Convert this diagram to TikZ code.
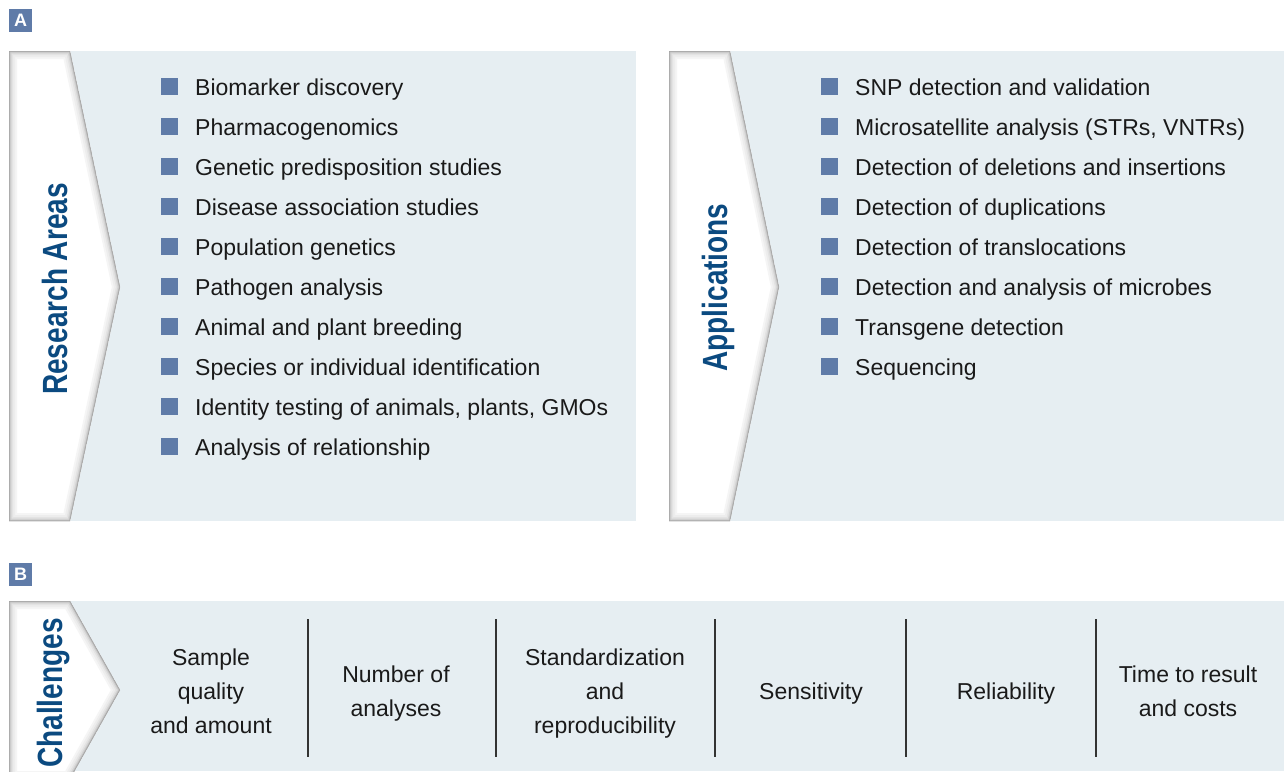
\documentclass[tikz,border=0pt]{standalone}
\usepackage{fontspec}
\setmainfont{Liberation Sans}
\newfontfamily\headfont{Liberation Sans}[FakeStretch=0.8]
\definecolor{panelbg}{HTML}{E6EEF2}
\definecolor{bulletblue}{HTML}{5F7BA8}
\definecolor{headblue}{HTML}{0B4A80}
\definecolor{txt}{HTML}{1A1A1A}
\newcommand\mychev[6]{%
  \fill[white] (#1,#2) -- (#3,#2) -- (#4,#5) -- (#3,#6) -- (#1,#6) -- cycle;
  \begin{scope}
    \clip (#1,#2) -- (#3,#2) -- (#4,#5) -- (#3,#6) -- (#1,#6) -- cycle;
    \foreach \w/\c in {16/4,12/7,8/11,5/17,2.5/26,1/36}{%
      \draw[line width=\w pt, black!\c, line join=miter] (#1,#2) -- (#3,#2) -- (#4,#5) -- (#3,#6) -- (#1,#6) -- cycle;}
  \end{scope}}
\tikzset{
  item/.style={anchor=base west, inner sep=0, font=\fontsize{23}{26}\selectfont, text=txt},
  bulletbox/.style={fill=bulletblue, minimum size=17pt, inner sep=0},
  heading/.style={rotate=90, inner sep=0, text=headblue, font=\headfont\bfseries\fontsize{35}{35}\selectfont},
  chtext/.style={align=center, inner sep=0, text=txt, font=\fontsize{23}{34}\selectfont},
  tagbox/.style={fill=bulletblue, text=white, minimum size=23pt, inner sep=0, font=\bfseries\fontsize{18}{18}\selectfont},
  divider/.style={line width=1.4pt, draw=black!80}
}
\begin{document}
\begin{tikzpicture}[x=1pt,y=-1pt]
\useasboundingbox (0,0) rectangle (1284,771);
\clip (0,0) rectangle (1284,771);
% tags
\node[tagbox] (tagA) at (20.5,20.5) {A};
\node[tagbox] (tagB) at (20.5,574) {B};
% panels
\fill[panelbg] (9,51) rectangle (636,521);
\fill[panelbg] (669,51) rectangle (1284,521);
\fill[panelbg] (9,601) rectangle (1284,771);
% chevrons
\mychev{9}{51}{70}{120}{287}{521}
\mychev{669}{51}{730}{779}{287}{521}
\mychev{9}{601}{70}{120}{690}{779}
% headings
\node[heading] (hRA) at (55,289) {Research Areas};
\node[heading] (hAP) at (718,287.5) {Applications};
\node[heading] (hCH) at (54,693) {Challenges};
% research areas list
\foreach \t [count=\i] in {Biomarker discovery, Pharmacogenomics, Genetic predisposition studies, Disease association studies, Population genetics, Pathogen analysis, Animal and plant breeding, Species or individual identification, {Identity testing of animals, plants, GMOs}, Analysis of relationship}{
  \node[bulletbox] (rb\i) at (169.5,46.5+40*\i) {};
  \node[item] (rt\i) at (195,55+40*\i) {\t};
}
% applications list
\foreach \t [count=\i] in {SNP detection and validation, {Microsatellite analysis (STRs, VNTRs)}, Detection of deletions and insertions, Detection of duplications, Detection of translocations, Detection and analysis of microbes, Transgene detection, Sequencing}{
  \node[bulletbox] (ab\i) at (829.5,46.5+40*\i) {};
  \node[item] (at\i) at (855,55+40*\i) {\t};
}
% challenges
\node[chtext] (c1) at (211,691) {Sample\\quality\\and amount};
\node[chtext] (c2) at (396,693.5) {Number of\\analyses};
\node[chtext] (c3) at (605,693.5) {Standardization\\and\\reproducibility};
\node[chtext, anchor=base] (c4) at (811,699) {Sensitivity};
\node[chtext, anchor=base] (c5) at (1006,699) {Reliability};
\node[chtext] (c6) at (1188,691) {Time to result\\and costs};
% dividers
\foreach \x in {308,496,715,906,1096}{
  \draw[divider] (\x,619) -- (\x,757);
}
\end{tikzpicture}
\end{document}
